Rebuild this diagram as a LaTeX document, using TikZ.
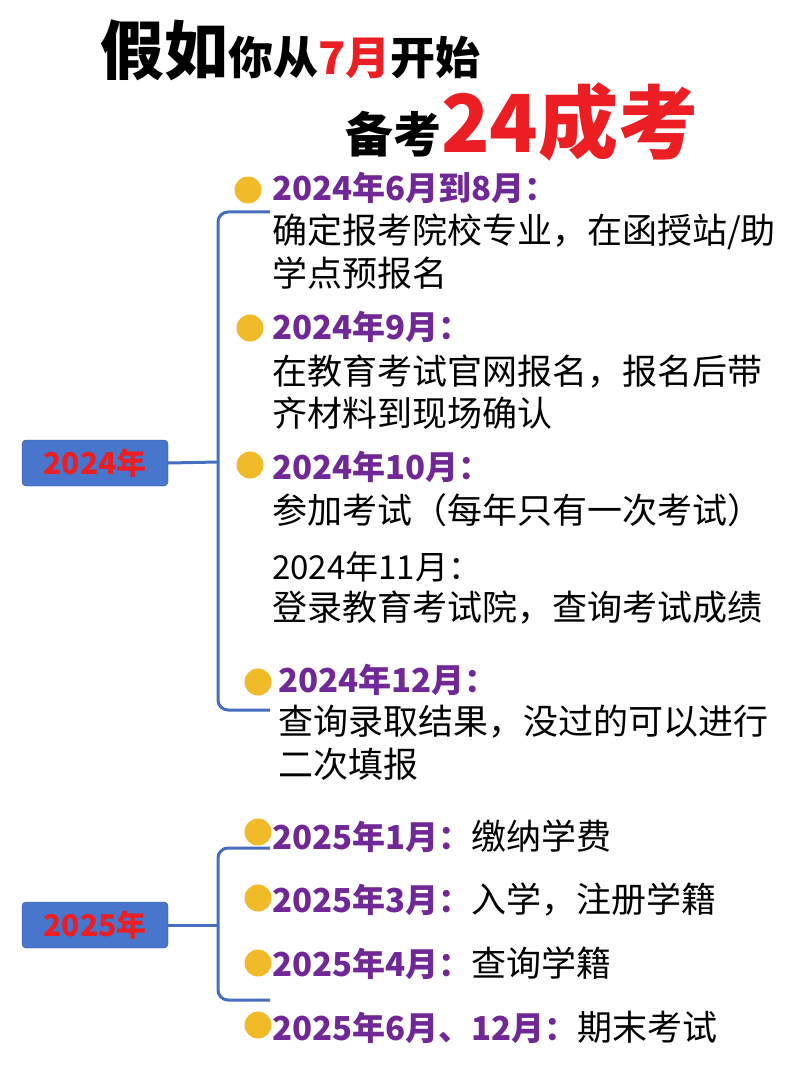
\documentclass[tikz,border=0pt]{standalone}
\usepackage{fontspec}
\setmainfont{Noto Sans CJK SC}
\definecolor{pur}{RGB}{112,40,150}
\definecolor{ttred}{RGB}{235,30,35}
\definecolor{bxblue}{RGB}{72,118,205}
\definecolor{brblue}{RGB}{70,110,190}
\definecolor{dotc}{RGB}{240,186,40}
\tikzset{
 txt/.style={anchor=west,inner sep=0pt,font=\fontsize{35}{40}\selectfont},
 hd/.style={txt,text=pur,font=\fontsize{33}{38}\selectfont\bfseries},
 dot/.style={circle,fill=dotc,minimum size=27pt,inner sep=0pt},
 yearbox/.style={draw=brblue!70!black,fill=bxblue,rounded corners=4pt,minimum width=146pt,minimum height=46pt,text=ttred,font=\fontsize{30}{36}\selectfont\bfseries},
 br/.style={draw=brblue,line width=3pt,rounded corners=10pt}
}
\begin{document}
\begin{tikzpicture}[x=1pt,y=-1pt]
\useasboundingbox (0,0) rectangle (800,1067);
\node[anchor=west,inner sep=0pt] (t1) at (100,50) {\bfseries\fontsize{64}{68}\selectfont 假如\fontsize{45}{48}\selectfont 你从\textcolor{ttred}{7月}开始};
\node[anchor=west,inner sep=0pt] (t2) at (345,122) {\bfseries\fontsize{48}{52}\selectfont 备考\textcolor{ttred}{\fontsize{80}{84}\selectfont 24成考}};
% 2024
\node[yearbox] (y1) at (95,463) {2024年};
\coordinate (b1t) at (270,212);
\coordinate (b1b) at (270,710);
\coordinate (b1m) at (218,462);
\draw[br] (b1t) -- (218,212) -- (218,710) -- (b1b);
\draw[br] (y1.east) -- (b1m);
\foreach \n/\x/\y in {a/248/190,b/250/328,c/250/465,d/258/682}
  \node[dot] (d\n) at (\x,\y) {};
\node[hd] (h1) at (272,188) {2024年6月到8月：};
\node[txt] (l1a) at (272,232) {确定报考院校专业，在函授站/助};
\node[txt] (l1b) at (272,273) {学点预报名};
\node[hd] (h2) at (272,327) {2024年9月：};
\node[txt] (l2a) at (272,372) {在教育考试官网报名，报名后带};
\node[txt] (l2b) at (272,413) {齐材料到现场确认};
\node[hd] (h3) at (272,467) {2024年10月：};
\node[txt] (l3a) at (272,510) {参加考试（每年只有一次考试）};
\node[txt,font=\fontsize{33}{38}\selectfont] (h4) at (272,567) {2024年11月：};
\node[txt] (l4a) at (272,608) {登录教育考试院，查询考试成绩};
\node[hd] (h5) at (278,680) {2024年12月：};
\node[txt] (l5a) at (278,722) {查询录取结果，没过的可以进行};
\node[txt] (l5b) at (278,764) {二次填报};
% 2025
\node[yearbox] (y2) at (95,925) {2025年};
\coordinate (b2t) at (270,848);
\coordinate (b2b) at (270,1000);
\coordinate (b2m) at (218,925);
\draw[br] (b2t) -- (218,848) -- (218,1000) -- (b2b);
\draw[br] (y2.east) -- (b2m);
\foreach \n/\y in {e/832,f/898,g/963,h/1025}
  \node[dot] (d\n) at (258,\y) {};
\node[hd] (k1) at (272,836) {2025年1月：\mdseries\textcolor{black}{\fontsize{35}{40}\selectfont 缴纳学费}};
\node[hd] (k2) at (272,900) {2025年3月：\mdseries\textcolor{black}{\fontsize{35}{40}\selectfont 入学，注册学籍}};
\node[hd] (k3) at (272,963) {2025年4月：\mdseries\textcolor{black}{\fontsize{35}{40}\selectfont 查询学籍}};
\node[hd] (k4) at (272,1027) {2025年6月、12月：\mdseries\textcolor{black}{\fontsize{35}{40}\selectfont 期末考试}};
\end{tikzpicture}
\end{document}
